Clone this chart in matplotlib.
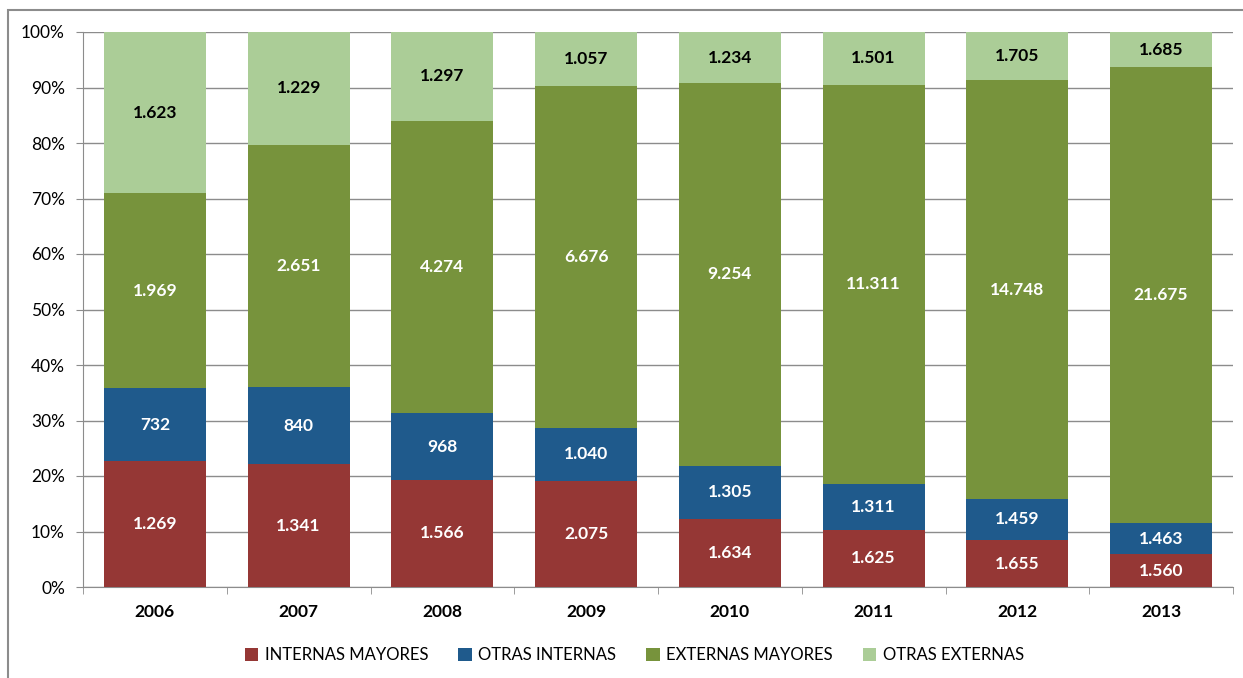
import matplotlib
matplotlib.use("Agg")
import matplotlib.pyplot as plt
import matplotlib.patches as mpatches
from matplotlib.ticker import FuncFormatter
import numpy as np

# datos
years = ["2006", "2007", "2008", "2009", "2010", "2011", "2012", "2013"]
series_names = ["INTERNAS MAYORES", "OTRAS INTERNAS", "EXTERNAS MAYORES", "OTRAS EXTERNAS"]
internas_mayores = [1269, 1341, 1566, 2075, 1634, 1625, 1655, 1560]
otras_internas = [732, 840, 968, 1040, 1305, 1311, 1459, 1463]
externas_mayores = [1969, 2651, 4274, 6676, 9254, 11311, 14748, 21675]
otras_externas = [1623, 1229, 1297, 1057, 1234, 1501, 1705, 1685]

colors = ["#953735", "#1F5A8C", "#77933C", "#ABCD97"]
text_colors = ["white", "white", "white", "black"]

plt.rcParams['font.family'] = ['Lato', 'DejaVu Sans']

data = np.array([internas_mayores, otras_internas, externas_mayores, otras_externas], dtype=float)
totals = data.sum(axis=0)
pct = data / totals * 100

fig = plt.figure(figsize=(12.43, 6.78), dpi=100)
ax = fig.add_axes([83 / 1243, 1 - 587 / 678, (1233 - 83) / 1243, (587 - 32) / 678])

# marco exterior
fig.patches.append(mpatches.Rectangle((8 / 1243, -0.1), 1.2, 1 - 10 / 678 + 0.1,
                                      transform=fig.transFigure, fill=False,
                                      edgecolor="#8C8C8C", lw=1.5, zorder=0))

x = np.arange(len(years))
bottom = np.zeros(len(years))
for i, name in enumerate(series_names):
    ax.bar(x, pct[i], bottom=bottom, width=0.71, color=colors[i], label=name, zorder=3)
    for j in range(len(years)):
        label = f"{int(data[i, j]):,}".replace(",", ".")
        ax.text(x[j], bottom[j] + pct[i, j] / 2, label, ha="center", va="center",
                color=text_colors[i], fontsize=12.5, fontweight="bold", zorder=4)
    bottom += pct[i]

ax.set_xlim(-0.5, len(years) - 0.5)
ax.set_ylim(0, 100)
ax.set_yticks(np.arange(0, 101, 10))
ax.yaxis.set_major_formatter(FuncFormatter(lambda v, p: f"{int(v)}%"))
ax.grid(axis="y", color="#8C8C8C", lw=1, zorder=0)
ax.set_xticks(x)
ax.set_xticklabels(years, fontsize=12.5, fontweight="bold")
ax.set_xticks(np.arange(-0.5, len(years), 1), minor=True)
ax.tick_params(axis="x", which="major", length=0, pad=12)
ax.tick_params(axis="x", which="minor", length=5, color="#8C8C8C")
ax.tick_params(axis="y", labelsize=12.5, length=5, color="#8C8C8C", pad=8)
for s in ["top", "right"]:
    ax.spines[s].set_visible(False)
for s in ["left", "bottom"]:
    ax.spines[s].set_color("#8C8C8C")

fig.legend(loc="center", bbox_to_anchor=(0.5105, 1 - 655 / 678), ncol=4, frameon=False,
           fontsize=12, handlelength=0.8, handleheight=0.8, columnspacing=1.8, handletextpad=0.4)

plt.savefig("out.png", dpi=100)
